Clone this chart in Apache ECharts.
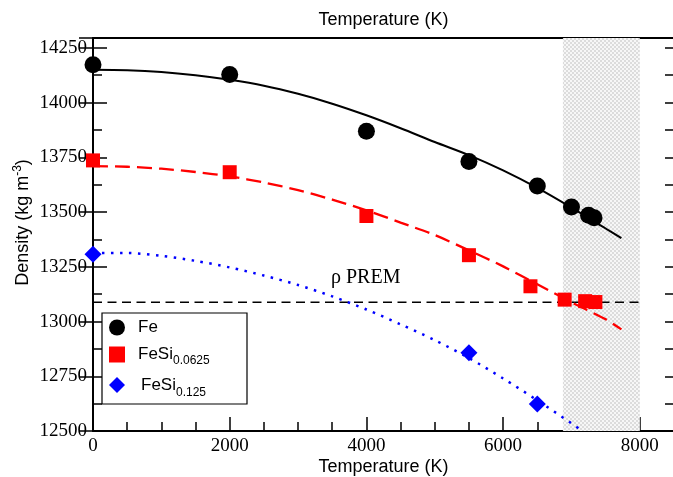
<!DOCTYPE html>
<html>
<head>
<meta charset="utf-8">
<script src="https://cdn.jsdelivr.net/npm/echarts@6.0.0/dist/echarts.min.js"></script>
<style>html,body{margin:0;padding:0;background:#fff;}#chart{width:673px;height:477px;}</style>
</head>
<body>
<div id="chart"></div>
<script>
// ---- data ----
const feTemps = [0, 2000, 4000, 5500, 6500, 7000, 7250, 7330];
const feDensity = [14173, 14128, 13869, 13731, 13619, 13523, 13485, 13474];

const feSi0625Temps = [0, 2000, 4000, 5500, 6400, 6900, 7200, 7350];
const feSi0625Density = [13736, 13682, 13482, 13303, 13161, 13100, 13093, 13089];

const feSi125Temps = [0, 5500, 6500];
const feSi125Density = [13307, 12857, 12623];

const feFitTemps = [0, 500, 1000, 1500, 2000, 2500, 3000, 3500, 4000, 4500, 5000, 5500, 6000, 6500, 7000, 7500, 7730];
const feFitDensity = [14150, 14148, 14140, 14125, 14104, 14077, 14040, 13995, 13942, 13883, 13820, 13760, 13690, 13610, 13520, 13425, 13381];

const feSi0625FitTemps = [0, 500, 1000, 1500, 2000, 2500, 3000, 3500, 4000, 4500, 5000, 5500, 6000, 6500, 7000, 7500, 7730];
const feSi0625FitDensity = [13710, 13707, 13698, 13683, 13663, 13635, 13600, 13557, 13508, 13452, 13395, 13325, 13252, 13170, 13088, 13010, 12964];

const feSi125FitTemps = [0, 500, 1000, 1500, 2000, 2500, 3000, 3500, 4000, 4500, 5000, 5500, 6000, 6500, 7000, 7140];
const feSi125FitDensity = [13313, 13313, 13300, 13277, 13247, 13210, 13167, 13115, 13055, 12987, 12915, 12833, 12740, 12640, 12535, 12504];

const premDensity = 13088;
const premTemps = [0, 8000];
const premLabelPos = [3990, 13200];

const shadeRange = [6875, 8000];

const xTickLabels = ['0', '2000', '4000', '6000', '8000'];
const yTickLabels = ['12500', '12750', '13000', '13250', '13500', '13750', '14000', '14250'];

const seriesNames = ['Fe', 'FeSi0.0625', 'FeSi0.125'];

// ---- helpers ----
const zip = (xs, ys) => xs.map((x, i) => [x, ys[i]]);

const pc = document.createElement('canvas');
pc.width = 4; pc.height = 4;
const pctx = pc.getContext('2d');
pctx.fillStyle = '#f7f7f7'; pctx.fillRect(0, 0, 4, 4);
pctx.fillStyle = '#dcdcdc'; pctx.fillRect(0, 0, 2, 2); pctx.fillRect(2, 2, 2, 2);

const X_MIN = 0, X_MAX = 8500, Y_MIN = 12500, Y_MAX = 14295;
const black = '#000';
const serif = 'Liberation Serif';
const sans = 'Liberation Sans';

const chart = echarts.init(document.getElementById('chart'), null, {renderer: 'canvas'});

const axisNameStyle = {fontFamily: sans, fontSize: 18, color: black};

const option = {
  animation: false,
  backgroundColor: '#fff',
  grid: {left: 93, right: -1, top: 38, bottom: 46, containLabel: false, outerBoundsMode: 'none'},
  xAxis: [
    {
      type: 'value', position: 'bottom', min: X_MIN, max: X_MAX, interval: 2000,
      axisLine: {show: true, lineStyle: {color: black, width: 2}},
      axisTick: {show: true, inside: true, length: 14, lineStyle: {color: black, width: 1.5}},
      axisLabel: {show: true, fontFamily: serif, fontSize: 19, color: black, margin: 6, showMaxLabel: false,
        formatter: v => xTickLabels.includes(String(v)) ? String(v) : ''},
      splitLine: {show: false},
      name: 'Temperature (K)', nameLocation: 'middle', nameGap: 27, nameMoveOverlap: false,
      nameTextStyle: axisNameStyle
    },
    {
      type: 'value', position: 'bottom', min: X_MIN, max: X_MAX, interval: 500,
      axisLine: {show: false},
      axisTick: {show: true, inside: true, length: 9, lineStyle: {color: black, width: 1.5}},
      axisLabel: {show: false}, splitLine: {show: false}
    },
    {
      type: 'value', position: 'top', min: X_MIN, max: X_MAX,
      axisLine: {show: true, lineStyle: {color: black, width: 2}},
      axisTick: {show: false}, axisLabel: {show: false}, splitLine: {show: false},
      name: 'Temperature (K)', nameLocation: 'middle', nameGap: 9, nameMoveOverlap: false,
      nameTextStyle: axisNameStyle
    }
  ],
  yAxis: [
    {
      type: 'value', position: 'left', min: Y_MIN, max: Y_MAX, interval: 250,
      axisLine: {show: true, lineStyle: {color: black, width: 2}},
      axisTick: {show: true, inside: true, length: 14, lineStyle: {color: black, width: 1.5}},
      axisLabel: {show: true, fontFamily: serif, fontSize: 19, color: black, margin: 6, showMaxLabel: false,
        formatter: v => yTickLabels.includes(String(v)) ? String(v) : ''},
      splitLine: {show: false},
      name: 'Density (kg m{sup|-3})', nameLocation: 'middle', nameGap: 59, nameRotate: 90, nameMoveOverlap: false,
      nameTextStyle: {fontFamily: sans, fontSize: 18, color: black, padding: [0, 0, 0, 24],
        rich: {sup: {fontFamily: sans, fontSize: 12, color: black, verticalAlign: 'top', padding: [0, 0, 10, 0]}}}
    },
    {
      type: 'value', position: 'left', min: Y_MIN, max: Y_MAX, interval: 125,
      axisLine: {show: false},
      axisTick: {show: true, inside: true, length: 9, lineStyle: {color: black, width: 1.5}},
      axisLabel: {show: false}, splitLine: {show: false}
    },
    {
      type: 'value', position: 'right', min: Y_MIN, max: Y_MAX, interval: 250,
      axisLine: {show: false},
      axisTick: {show: true, inside: true, length: 14, lineStyle: {color: black, width: 1.5}},
      axisLabel: {show: false}, splitLine: {show: false}
    },
    {
      type: 'value', position: 'right', min: Y_MIN, max: Y_MAX, interval: 125,
      axisLine: {show: false},
      axisTick: {show: true, inside: true, length: 9, lineStyle: {color: black, width: 1.5}},
      axisLabel: {show: false}, splitLine: {show: false}
    }
  ],
  graphic: [
    {type: 'rect', z: 50, silent: true, shape: {x: 102, y: 313, width: 145, height: 91},
     style: {fill: '#fff', stroke: black, lineWidth: 1.2}}
  ],
  legend: {
    z: 60,
    data: seriesNames,
    orient: 'vertical',
    left: 109, top: 319,
    itemWidth: 16, itemHeight: 16, itemGap: 10,
    padding: 0,
    selectedMode: false,
    formatter: function (name) {
      if (name === 'Fe') return '{m|Fe}';
      const sub = name.slice(4);
      if (name === 'FeSi0.125') return '{m3|FeSi}{s3|' + sub + '}';
      return '{m|FeSi}{s|' + sub + '}';
    },
    textStyle: {
      fontFamily: sans, fontSize: 17, color: black,
      rich: {
        m: {fontFamily: sans, fontSize: 17, color: black, padding: [0, 0, 0, 8]},
        m3: {fontFamily: sans, fontSize: 17, color: black, padding: [0, 0, 0, 11]},
        s: {fontFamily: sans, fontSize: 12, color: black, verticalAlign: 'bottom', padding: [12, 0, 0, 0]},
        s3: {fontFamily: sans, fontSize: 12, color: black, verticalAlign: 'bottom', padding: [16, 0, 0, 0]}
      }
    }
  },
  series: [
    {
      name: 'shade', type: 'line', data: [], z: 1, silent: true,
      markArea: {
        silent: true,
        itemStyle: {color: {image: pc, repeat: 'repeat'}},
        data: [[{xAxis: shadeRange[0]}, {xAxis: shadeRange[1]}]]
      }
    },
    {
      name: 'PREM', type: 'line', z: 2, silent: true, symbol: 'none',
      data: premTemps.map(t => [t, premDensity]),
      lineStyle: {color: black, width: 1.5, type: [9, 5.5]},
      markPoint: {
        silent: true, symbol: 'circle', symbolSize: 0,
        label: {show: true, position: 'inside', formatter: 'ρ PREM', fontFamily: serif, fontSize: 20, color: black},
        data: [{coord: premLabelPos}]
      }
    },
    {
      name: 'Fe fit', type: 'line', z: 3, silent: true, symbol: 'none', smooth: 0.3,
      data: zip(feFitTemps, feFitDensity),
      lineStyle: {color: black, width: 2}
    },
    {
      name: 'FeSi0.0625 fit', type: 'line', z: 3, silent: true, symbol: 'none', smooth: 0.3,
      data: zip(feSi0625FitTemps, feSi0625FitDensity),
      lineStyle: {color: '#ff0000', width: 2.3, type: [15, 7]}
    },
    {
      name: 'FeSi0.125 fit', type: 'line', z: 3, silent: true, symbol: 'none', smooth: 0.3,
      data: zip(feSi125FitTemps, feSi125FitDensity),
      lineStyle: {color: '#0000ff', width: 2.5, type: [2.5, 6.5]}
    },
    {
      name: 'Fe', type: 'scatter', z: 4, symbol: 'circle', symbolSize: 17,
      itemStyle: {color: black, opacity: 1},
      data: zip(feTemps, feDensity)
    },
    {
      name: 'FeSi0.0625', type: 'scatter', z: 4, symbol: 'rect', symbolSize: 14,
      itemStyle: {color: '#ff0000', opacity: 1},
      data: zip(feSi0625Temps, feSi0625Density)
    },
    {
      name: 'FeSi0.125', type: 'scatter', z: 4, symbol: 'diamond', symbolSize: 17,
      itemStyle: {color: '#0000ff', opacity: 1},
      data: zip(feSi125Temps, feSi125Density)
    }
  ]
};
chart.setOption(option);
</script>
</body>
</html>
